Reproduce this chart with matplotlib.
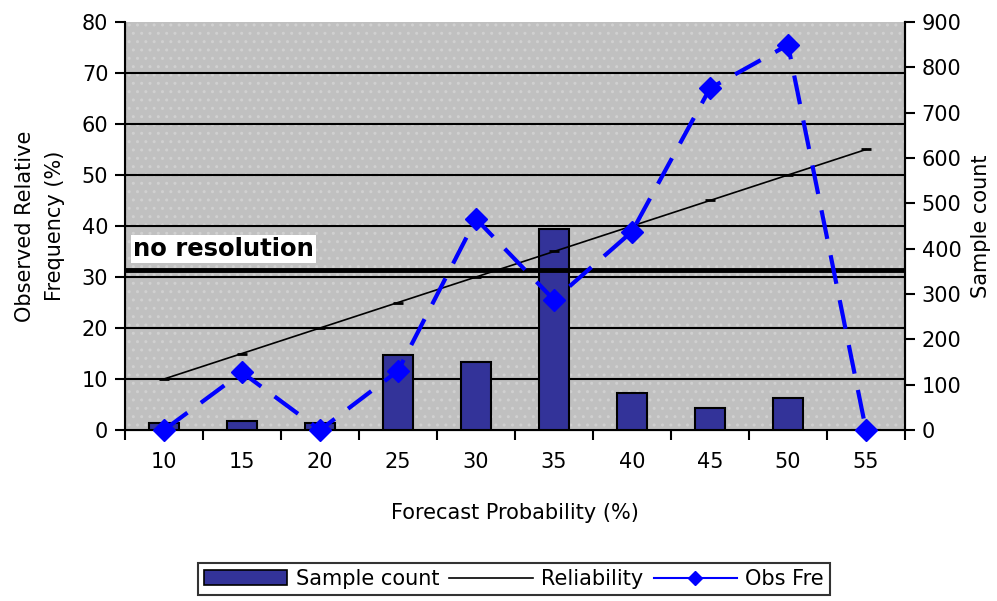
import matplotlib
matplotlib.use("Agg")
import matplotlib.pyplot as plt
from matplotlib.patches import Patch, Rectangle
from matplotlib.lines import Line2D
import numpy as np

plt.rcParams['font.family'] = ['DejaVu Sans']
plt.rcParams['hatch.linewidth'] = 1.0

categories = [10, 15, 20, 25, 30, 35, 40, 45, 50, 55]
sample_count = [15, 20, 15, 165, 150, 443, 82, 48, 70, 0]
reliability = [10, 15, 20, 25, 30, 35, 40, 45, 50, 55]
obs_freq = [0, 11.3, 0, 11.6, 41.4, 25.5, 38.9, 67.0, 75.5, 0]
no_resolution = 31.3

x = np.arange(len(categories))
FS = 15

fig = plt.figure(figsize=(9.97, 6.01), dpi=100)
pos = [125/997, 1-430/601, 780/997, 408/601]

ax = fig.add_axes(pos)
ax.set_facecolor('#C0C0C0')
ax.add_patch(Rectangle((0, 0), 1, 1, transform=ax.transAxes, facecolor='none',
                       edgecolor='#D0D0D0', hatch='..', lw=0, zorder=0))
ax.set_xlim(-0.5, len(categories)-0.5)
ax.set_ylim(0, 80)
ax.set_yticks(np.arange(0, 81, 10))
for yv in np.arange(10, 80, 10):
    ax.axhline(yv, color='black', lw=1.5, zorder=1)
ax.set_xticks(x)
ax.set_xticklabels([str(c) for c in categories])
ax.set_xticks(np.arange(-0.5, len(categories), 1), minor=True)
ax.tick_params(axis='x', which='major', length=0, pad=16, labelsize=FS)
ax.tick_params(axis='x', which='minor', length=7, width=1.5, direction='out')
ax.tick_params(axis='y', length=7, width=1.5, direction='out', labelsize=FS, pad=5)
ax.set_xlabel('Forecast Probability (%)', fontsize=FS, labelpad=22)
ax.set_ylabel('Observed Relative\nFrequency (%)', fontsize=FS, labelpad=12, linespacing=1.6)
ax.spines['top'].set_visible(False)
for s in ['left', 'bottom', 'right']:
    ax.spines[s].set_linewidth(1.5)

ax2 = ax.twinx()
ax2.set_ylim(0, 900)
ax2.set_yticks(np.arange(0, 901, 100))
ax2.bar(x, sample_count, width=0.39, color='#333399', edgecolor='black', linewidth=1.5, zorder=2)
ax2.tick_params(axis='y', length=7, width=1.5, direction='out', labelsize=FS, pad=5)
ax2.set_ylabel('Sample count', fontsize=FS, labelpad=7)
ax2.spines['top'].set_visible(False)
ax2.spines['right'].set_linewidth(1.5)
ax2.patch.set_visible(False)

ax3 = ax.twinx()
ax3.set_ylim(0, 80)
ax3.set_xlim(-0.5, len(categories)-0.5)
ax3.axis('off')
ax3.plot(x, reliability, color='black', lw=1.2, marker='_', markersize=7, markeredgewidth=2, zorder=3)
ax3.plot(x, obs_freq, color='#0000FF', lw=3, dashes=(7, 4), marker='D', markersize=11, zorder=4, clip_on=False)
ax3.axhline(no_resolution, color='black', lw=3.5, zorder=3)
ax3.text(-0.4, no_resolution + 1.8, 'no resolution', fontsize=17.5, fontweight='bold', va='bottom', ha='left',
         bbox=dict(facecolor='white', edgecolor='none', pad=1.5))

handles = [Patch(facecolor='#333399', edgecolor='black', linewidth=1.2),
           Line2D([], [], color='black', lw=1.2),
           Line2D([], [], color='#0000FF', lw=1.5, marker='D', markersize=7)]
leg = fig.legend(handles, ['Sample count', 'Reliability', 'Obs Fre'], ncol=3, loc='center',
                 bbox_to_anchor=(514/997, 1-579/601), frameon=True, fancybox=False,
                 edgecolor='black', fontsize=FS, handlelength=4.0, columnspacing=0.5,
                 handletextpad=0.4, borderpad=0.3)
leg.get_frame().set_linewidth(1.5)

fig.savefig('out.png', dpi=100)
